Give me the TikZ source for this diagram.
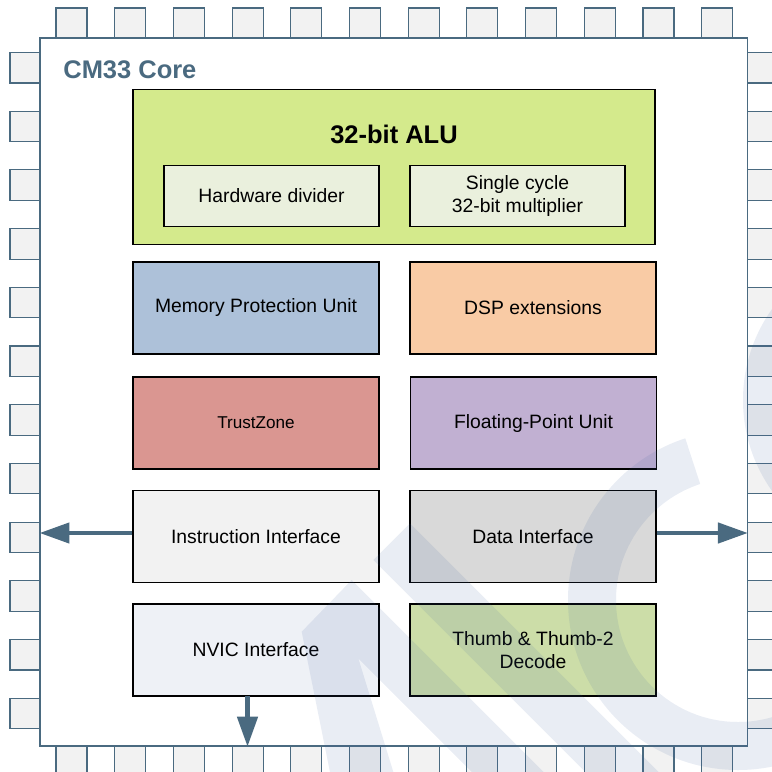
\documentclass[tikz,border=0pt]{standalone}
\usepackage{fontspec}
\setmainfont{Liberation Sans}
\usetikzlibrary{arrows.meta}

\definecolor{steel}{HTML}{4A6A80}
\definecolor{pinfill}{HTML}{F2F2F2}
\definecolor{alufill}{HTML}{D4EA8C}
\definecolor{subfill}{HTML}{EAF0DD}
\definecolor{mpufill}{HTML}{ADC1D9}
\definecolor{dspfill}{HTML}{F9CBA5}
\definecolor{tzfill}{HTML}{DA9691}
\definecolor{fpufill}{HTML}{C1B0D2}
\definecolor{instrfill}{HTML}{F2F2F2}
\definecolor{datafill}{HTML}{D9D9D9}
\definecolor{nvicfill}{HTML}{EEF1F6}
\definecolor{thumbfill}{HTML}{CCDDA8}
\definecolor{wm}{HTML}{3B5FA0}

\tikzset{
  blk/.style={draw=black, line width=0.25mm, inner sep=0pt, align=center, font=\fontsize{11}{13.5}\selectfont},
  cell/.style={blk, minimum width=49.2mm, minimum height=18.4mm},
  subcell/.style={blk, fill=subfill, minimum width=43mm, minimum height=12.2mm},
  pinbox/.style={draw=steel, fill=pinfill, line width=0.22mm},
  busarrow/.style={draw=steel, line width=0.9mm, -{Triangle[length=6mm,width=4mm]}},
  wmark/.style={fill=wm, fill opacity=0.11}
}

\begin{document}
\begin{tikzpicture}[x=0.2mm,y=-0.2mm]
\def\pitch{58.7}
\clip (0,0) rectangle (772,772);
\fill[white] (0,0) rectangle (772,772);

\foreach \i in {0,...,11}{
  \draw[pinbox] (56+\i*\pitch,8) rectangle +(31,30);
  \draw[pinbox] (56+\i*\pitch,746) rectangle +(31,30);
  \draw[pinbox] (10,52.5+\i*\pitch) rectangle +(30,30.5);
  \draw[pinbox] (747,52.5+\i*\pitch) rectangle +(30,30.5);
}

\node[draw=steel, fill=white, line width=0.28mm, minimum width=141.4mm, minimum height=141.6mm, inner sep=0pt] (body) at (393.7,392) {};
\node[anchor=base west, text=steel, font=\fontsize{14.5}{17}\selectfont\bfseries, inner sep=0pt] (title) at (63,78.3) {CM33 Core};

\node[blk, fill=alufill, minimum width=104.4mm, minimum height=31mm] (alu) at (394,167) {};
\node[anchor=base, font=\fontsize{14.5}{17}\selectfont\bfseries, inner sep=0pt] (alutitle) at (394,144) {32-bit ALU};
\node[subcell] (div) at (271.5,196) {Hardware divider};
\node[subcell] (mul) at (517.5,196) {Single cycle\\32-bit multiplier};

\node[cell, fill=mpufill] (mpu) at (256,308) {Memory Protection Unit};
\node[cell, fill=dspfill] (dsp) at (533,308) {DSP extensions};
\node[cell, fill=tzfill, font=\fontsize{9.75}{12}\selectfont] (tz) at (256,423) {TrustZone};
\node[cell, fill=fpufill] (fpu) at (533.5,423) {Floating-Point Unit};
\node[cell, fill=instrfill] (instr) at (256,536.5) {Instruction Interface};
\node[cell, fill=datafill] (data) at (533,536.5) {Data Interface};
\node[cell, fill=nvicfill] (nvic) at (256,650) {NVIC Interface};
\node[cell, fill=thumbfill] (thumb) at (533,650) {Thumb \& Thumb-2\\Decode};

\coordinate (nvicout) at (247.5,696);
\draw[busarrow] ([yshift=0.7mm]instr.west) -- ([yshift=0.7mm]instr.west -| body.west);
\draw[busarrow] ([yshift=0.7mm]data.east) -- ([yshift=0.7mm]data.east -| body.east);
\draw[busarrow] (nvicout) -- (nvicout |- body.south);

\fill[wmark] (301.7,631.7) -- (351.7,580) -- (551.7,780) -- (480,780) -- (358.3,658.3) -- (395.8,780) -- (331.6,780) -- cycle;
\fill[wmark] (373.3,560) -- (410,523.3) -- (666.7,780) -- (593.3,780) -- cycle;
\begin{scope}
\clip (738,600) -- (614,220) -- (300,220) -- (300,1000) -- (1084,1000) -- (1084,800) -- cycle;
\fill[wmark, even odd rule] (738,600) circle[radius=170] (738,600) circle[radius=122];
\end{scope}
\fill[wmark, even odd rule] (900,400) circle[radius=157] (900,400) circle[radius=110];
\end{tikzpicture}
\end{document}
